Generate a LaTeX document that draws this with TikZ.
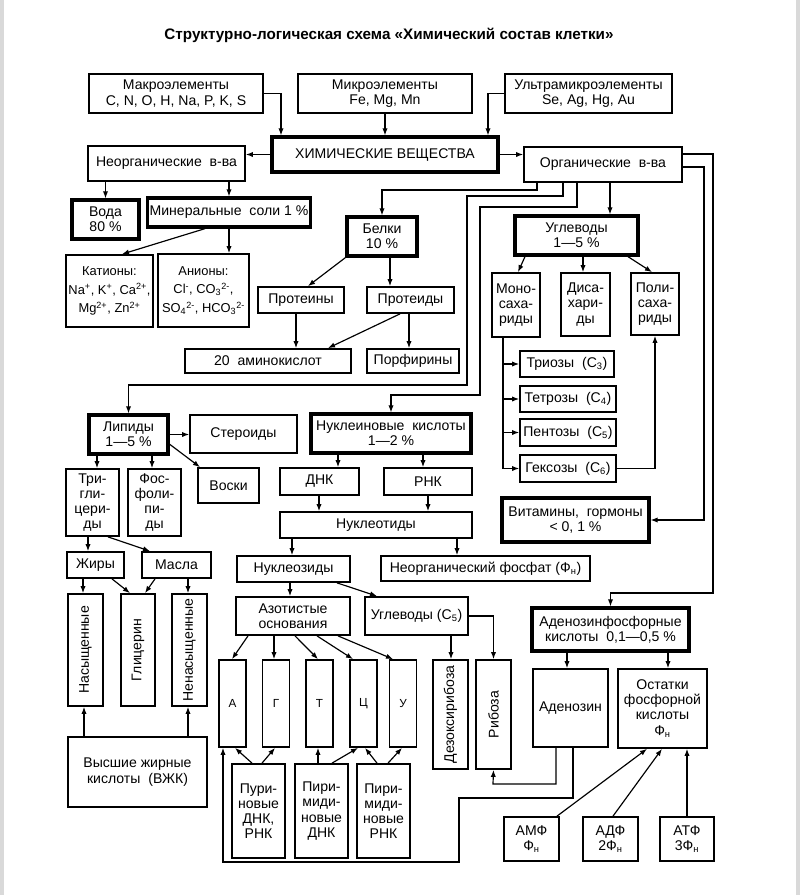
\documentclass[tikz,border=0pt]{standalone}
\usepackage{fontspec}
\setmainfont{Liberation Sans}
\usepackage{graphicx}
\usetikzlibrary{arrows.meta}

\begin{document}
\begin{tikzpicture}[
    x=0.3mm, y=-0.3mm,
    box/.style={rectangle, draw, line width=1.5pt, align=center, inner sep=2pt,
        font=\fontsize{12}{13}\selectfont},
    mainbox/.style={box, line width=2.8pt},
    sz/.style 2 args={minimum width=#1*0.3mm, minimum height=#2*0.3mm},
    ion/.style={box, font=\fontsize{11}{13}\selectfont},
    base/.style={box, font=\fontsize{10}{12}\selectfont},
    arr/.style={-{Latex[length=6pt,width=4.5pt]}, line width=1pt},
    ln/.style={line width=1pt}
]
    \useasboundingbox (0,0) rectangle (800,895);
    \fill[gray!30] (0,0) rectangle (4,895);
    \fill[gray!30] (796,0) rectangle (800,895);

    \node[font=\fontsize{13}{15}\selectfont\bfseries] (title) at (389,35)
        {Структурно-логическая схема «Химический состав клетки»};

    % элементы и вещества
    \node[box, sz={174}{39}] (makro) at (176,93.5) {Макроэлементы\\C, N, O, H, Na, P, K, S};
    \node[box, sz={174}{39}] (mikro) at (385,93.5) {Микроэлементы\\Fe, Mg, Mn};
    \node[box, sz={167}{39}] (ultra) at (588.5,93.5) {Ультрамикроэлементы\\Se, Ag, Hg, Au};
    \node[mainbox, sz={226}{35}] (chem) at (385,154.5) {ХИМИЧЕСКИЕ ВЕЩЕСТВА};
    \node[box, sz={157}{35}] (neorg) at (166.5,163.5) {Неорганические\ \ в-ва};
    \node[box, sz={158}{35}] (org) at (603,164.5) {Органические\ \ в-ва};

    % неорганические
    \node[mainbox, sz={67}{39}] (voda) at (105.5,219.5) {Вода\\80 \%};
    \node[mainbox, sz={160}{29}] (minsol) at (229,212.5) {Минеральные\ \ соли 1 \%};
    \node[ion, sz={85}{72}] (kation) at (109.5,291)
        {Катионы:\\[3pt]Na\textsuperscript{+}, K\textsuperscript{+}, Ca\textsuperscript{2+},\\[3pt]Mg\textsuperscript{2+}, Zn\textsuperscript{2+}};
    \node[ion, sz={91}{73}] (anion) at (203.5,290.5)
        {Анионы:\\[3pt]Cl\textsuperscript{-}, CO\textsubscript{3}\textsuperscript{2-},\\[3pt]SO\textsubscript{4}\textsuperscript{2-}, HCO\textsubscript{3}\textsuperscript{2-}};

    % белки
    \node[mainbox, sz={70}{39}] (belki) at (382,236.5) {Белки\\10 \%};
    \node[box, sz={86}{26}] (protein) at (301,300) {Протеины};
    \node[box, sz={87}{26}] (proteid) at (410.5,300) {Протеиды};
    \node[box, sz={166}{24}] (amino) at (268,361) {20\ \ аминокислот};
    \node[box, sz={92}{24}] (porf) at (413,361) {Порфирины};

    % углеводы
    \node[mainbox, sz={123}{39}] (uglev) at (576.5,235.5) {Углеводы\\1—5 \%};
    \node[box, sz={48}{64}] (mono) at (516,305) {Моно-\\саха-\\риды};
    \node[box, sz={49}{63}] (disa) at (585.5,304.5) {Диса-\\хари-\\ды};
    \node[box, sz={48}{62}] (poli) at (655,304) {Поли-\\саха-\\риды};
    \node[box, sz={94}{26}] (trioz) at (567,364) {Триозы\ \ (C\textsubscript{3})};
    \node[box, sz={96}{26}] (tetroz) at (568,399) {Тетрозы\ \ (C\textsubscript{4})};
    \node[box, sz={96}{27}] (pentoz) at (568,432.5) {Пентозы\ \ (C\textsubscript{5})};
    \node[box, sz={96}{27}] (geksoz) at (568,468.5) {Гексозы\ \ (C\textsubscript{6})};
    \node[mainbox, sz={147}{44}] (vitamin) at (575.5,520) {Витамины,\ \ гормоны\\< 0, 1 \%};

    % липиды
    \node[mainbox, sz={79}{39}] (lipid) at (128.5,434.5) {Липиды\\1—5 \%};
    \node[box, sz={107}{38}] (steroid) at (243.5,434) {Стероиды};
    \node[box, sz={61}{35}] (voski) at (228.5,485.5) {Воски};
    \node[box, sz={53}{67}] (trigl) at (92.5,502.5) {Три-\\гли-\\цери-\\ды};
    \node[box, sz={53}{67}] (fosfol) at (154.5,502.5) {Фос-\\фоли-\\пи-\\ды};
    \node[box, sz={57}{26}] (zhiry) at (95.5,565) {Жиры};
    \node[box, sz={69}{26}] (masla) at (176.5,565) {Масла};
    \node[box, sz={35}{112}] (nasysh) at (85.5,650) {\rotatebox{90}{Насыщенные}};
    \node[box, sz={34}{112}] (glicerin) at (138,650) {\rotatebox{90}{Глицерин}};
    \node[box, sz={35}{112}] (nenas) at (189.5,650) {\rotatebox{90}{Ненасыщенные}};
    \node[box, sz={139}{70}] (vzhk) at (137.5,772) {Высшие жирные\\кислоты\ \ (ВЖК)};

    % нуклеиновые кислоты
    \node[mainbox, sz={160}{39}] (nuklk) at (391,433.5) {Нуклеиновые\ \ кислоты\\1—2 \%};
    \node[box, sz={79}{27}] (dnk) at (319.5,481.5) {ДНК};
    \node[box, sz={88}{27}] (rnk) at (428,481.5) {РНК};
    \node[box, sz={192}{26}] (nuklt) at (376,525) {Нуклеотиды};
    \node[box, sz={113}{26}] (nuklz) at (293.5,569) {Нуклеозиды};
    \node[box, sz={209}{25}] (fosfat) at (485.5,568.5) {Неорганический фосфат (Ф\textsubscript{н})};
    \node[box, sz={114}{38}] (azot) at (293,616) {Азотистые\\основания};
    \node[box, sz={103}{38}] (uglc) at (416.5,616) {Углеводы (C\textsubscript{5})};
    \foreach \n/\t/\x in {A/А/232.5, G/Г/276, T/Т/319.5, C/Ц/363.5, U/У/403}
        \node[base, sz={27}{87}] (osn\n) at (\x,703.5) {\t};
    \node[box, sz={35}{109}] (dezoks) at (450.5,714.5) {\rotatebox{90}{Дезоксирибоза}};
    \node[box, sz={35}{109}] (riboza) at (493.5,714.5) {\rotatebox{90}{Рибоза}};
    \node[box, sz={53}{94}] (purin) at (258.5,811) {Пури-\\новые\\ДНК,\\РНК};
    \node[box, sz={53}{94}] (pirdnk) at (321.5,811) {Пири-\\миди-\\новые\\ДНК};
    \node[box, sz={53}{94}] (pirrnk) at (383.5,811) {Пири-\\миди-\\новые\\РНК};

    % АТФ
    \node[mainbox, sz={157}{43}] (afk) at (610.5,629.5) {Аденозинфосфорные\\кислоты\ \ 0,1—0,5 \%};
    \node[box, sz={75}{78}] (adenozin) at (570.5,708) {Аденозин};
    \node[box, sz={89}{79}] (ostatki) at (662.5,708.5) {Остатки\\фосфорной\\кислоты\\Ф\textsubscript{н}};
    \node[box, sz={55}{44}] (amf) at (531.5,839) {АМФ\\Ф\textsubscript{н}};
    \node[box, sz={55}{44}] (adf) at (610.5,839) {АДФ\\2Ф\textsubscript{н}};
    \node[box, sz={54}{44}] (atf) at (687,839) {АТФ\\3Ф\textsubscript{н}};

    % стрелки верхней части
    \draw[arr] (makro.east) -| (281,0 |- chem.north);
    \draw[arr] (mikro.south) -- (chem.north);
    \draw[arr] (ultra.west) -| (488,0 |- chem.north);
    \draw[arr] (chem.west) -- (chem.west -| neorg.east);
    \draw[arr] (chem.east) -- (chem.east -| org.west);
    \draw[arr] (neorg.south -| voda) -- (voda.north);
    \draw[arr] (neorg.south -| minsol) -- (minsol.north);
    \draw[arr] (205,0 |- minsol.south) -- (122,0 |- kation.north);
    \draw[arr] (minsol.south) -- (minsol.south |- anion.north);

    % от органических веществ
    \draw[arr] (537,0 |- org.south) |- (382,190) -| (belki.north);
    \draw[arr] (563,0 |- org.south) |- (467,196) -- (467,385) -| (lipid.north);
    \draw[arr] (577,0 |- org.south) |- (480,207) -- (480,395) -| (nuklk.north);
    \draw[arr] (610,0 |- org.south) -- (610,0 |- uglev.north);
    \draw[arr] (org.east |- 0,154) -| (713,593) -| (afk.north);
    \draw[arr] (org.east |- 0,167) -| (704,0 |- vitamin.east) -- (vitamin.east);

    % белки
    \draw[arr] (belki.south west) -- (308,0 |- protein.north);
    \draw[arr] (390,0 |- belki.south) -- (390,0 |- proteid.north);
    \draw[arr] (296,0 |- protein.south) -- (296,0 |- amino.north);
    \draw[arr] (400,0 |- proteid.south) -- (328,0 |- amino.north);
    \draw[arr] (409,0 |- proteid.south) -- (409,0 |- porf.north);

    % углеводы
    \draw[arr] (525,0 |- uglev.south) -- (518,0 |- mono.north);
    \draw[arr] (583,0 |- uglev.south) -- (583,0 |- disa.north);
    \draw[arr] (628,0 |- uglev.south) -- (652,0 |- poli.north);
    \draw[ln] (503,0 |- mono.south) -- (503,0 |- geksoz.west);
    \foreach \n in {trioz,tetroz,pentoz,geksoz}
        \draw[arr] (503,0 |- \n.west) -- (\n.west);
    \draw[arr] (geksoz.east) -| (poli.south);

    % липиды
    \draw[arr] (lipid.east) -- (lipid.east -| steroid.west);
    \draw[arr] (168,443) -- (200,0 |- voski.north);
    \draw[arr] (97,0 |- lipid.south) -- (97,0 |- trigl.north);
    \draw[arr] (152,0 |- lipid.south) -- (152,0 |- fosfol.north);
    \draw[arr] (88,0 |- trigl.south) -- (88,0 |- zhiry.north);
    \draw[arr] (108,0 |- trigl.south) -- (150,0 |- masla.north);
    \draw[arr] (83,0 |- zhiry.south) -- (83,0 |- nasysh.north);
    \draw[arr] (112,0 |- zhiry.south) -- (130,0 |- glicerin.north);
    \draw[arr] (155,0 |- masla.south) -- (145,0 |- glicerin.north);
    \draw[arr] (188,0 |- masla.south) -- (188,0 |- nenas.north);
    \draw[arr] (84,0 |- vzhk.north) -- (84,0 |- nasysh.south);
    \draw[arr] (188,0 |- vzhk.north) -- (188,0 |- nenas.south);

    % нуклеиновые кислоты
    \draw[arr] (338,0 |- nuklk.south) -- (338,0 |- dnk.north);
    \draw[arr] (423,0 |- nuklk.south) -- (423,0 |- rnk.north);
    \draw[arr] (319,0 |- dnk.south) -- (319,0 |- nuklt.north);
    \draw[arr] (428,0 |- rnk.south) -- (428,0 |- nuklt.north);
    \draw[arr] (292,0 |- nuklt.south) -- (292,0 |- nuklz.north);
    \draw[arr] (457,0 |- nuklt.south) -- (457,0 |- fosfat.north);
    \draw[arr] (290,0 |- nuklz.south) -- (290,0 |- azot.north);
    \draw[arr] (337,0 |- nuklz.south) -- (377,0 |- uglc.north);
    \draw[arr] (248,0 |- azot.south) -- (232,0 |- osnA.north);
    \draw[arr] (274,0 |- azot.south) -- (274,0 |- osnG.north);
    \draw[arr] (295,0 |- azot.south) -- (318,0 |- osnT.north);
    \draw[arr] (317,0 |- azot.south) -- (353,0 |- osnC.north);
    \draw[arr] (338,0 |- azot.south) -- (393,0 |- osnU.north);
    \draw[arr] (451,0 |- uglc.south) -- (451,0 |- dezoks.north);
    \draw[arr] (uglc.east) -| (riboza.north);
    \draw[arr] (252,0 |- purin.north) -- (235,0 |- osnA.south);
    \draw[arr] (262,0 |- purin.north) -- (275,0 |- osnG.south);
    \draw[arr] (318,0 |- pirdnk.north) -- (318,0 |- osnT.south);
    \draw[arr] (332,0 |- pirdnk.north) -- (358,0 |- osnC.south);
    \draw[arr] (377,0 |- pirrnk.north) -- (365,0 |- osnC.south);
    \draw[arr] (388,0 |- pirrnk.north) -- (402,0 |- osnU.south);

    % аденозинфосфорные кислоты
    \draw[arr] (567,0 |- afk.south) -- (567,0 |- adenozin.north);
    \draw[arr] (668,0 |- afk.south) -- (668,0 |- ostatki.north);
    \draw[arr] (556,0 |- adenozin.south) |- (493,784) -- (riboza.south);
    \draw[arr] (573,0 |- adenozin.south) |- (459,798) |- (223,862) -- (223,0 |- osnA.south);
    \draw[arr] (557,0 |- amf.north) -- (647,0 |- ostatki.south);
    \draw[arr] (613,0 |- adf.north) -- (662,0 |- ostatki.south);
    \draw[arr] (atf.north) -- (atf.north |- ostatki.south);
\end{tikzpicture}
\end{document}
